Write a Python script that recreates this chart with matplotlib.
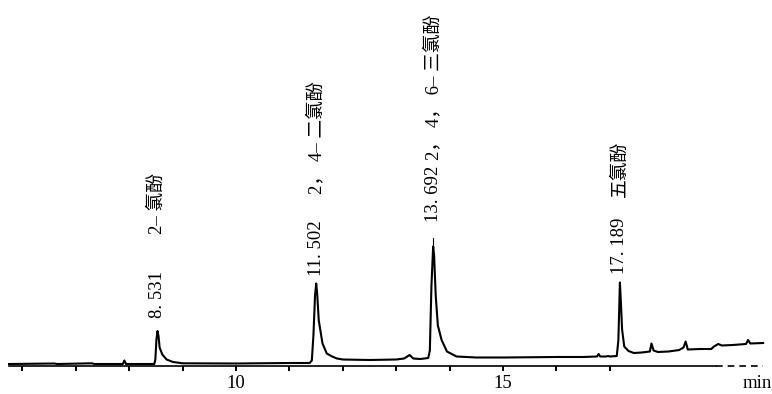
import matplotlib.pyplot as plt

# chromatogram trace: retention time (min), signal (arb.)
times = [5.75, 6.6, 6.65, 7.3, 7.35, 7.88, 7.91, 7.94, 8.47, 8.49, 8.51, 8.531,
         8.55, 8.57, 8.62, 8.70, 8.82, 9.0, 10.0, 11.0, 11.38, 11.42, 11.45, 11.48,
         11.502, 11.52, 11.55, 11.62, 11.70, 11.80, 11.89, 12.0, 12.5, 13.0, 13.15,
         13.25, 13.32, 13.45, 13.6, 13.63, 13.66, 13.692, 13.71, 13.74, 13.78, 13.85,
         13.95, 14.13, 14.5, 15.0, 16.0, 16.5, 16.76, 16.79, 16.82, 16.93, 16.97, 17.0,
         17.13, 17.16, 17.189, 17.21, 17.23, 17.27, 17.35, 17.45, 17.6, 17.75, 17.78,
         17.82, 17.9, 18.1, 18.3, 18.38, 18.42, 18.46, 18.7, 18.9, 18.95, 19.03, 19.1,
         19.3, 19.55, 19.59, 19.63, 19.87]
signal = [1.5, 2.0, 1.5, 2.2, 1.5, 1.5, 5.0, 1.5, 1.5, 6.0, 26.0, 34.5,
          29.0, 18.0, 11.0, 6.0, 3.5, 2.2, 2.0, 2.5, 2.5, 5.0, 30.0, 70.0,
          82.0, 72.0, 45.0, 22.0, 12.0, 9.0, 7.0, 6.0, 5.5, 6.0, 7.0,
          10.5, 7.0, 6.5, 7.5, 15.0, 80.0, 119.0, 110.0, 70.0, 40.0, 25.5,
          14.0, 9.0, 8.0, 8.0, 8.5, 8.5, 9.0, 11.5, 9.0, 9.0, 9.5, 9.0,
          9.5, 25.0, 83.0, 60.0, 36.0, 19.0, 14.5, 12.5, 13.0, 14.0, 22.0,
          15.0, 13.5, 14.0, 15.5, 18.0, 24.0, 16.0, 16.5, 16.5, 19.0, 21.5, 20.0,
          20.5, 21.5, 25.5, 22.0, 22.5]

peak_times = [8.531, 11.502, 13.692, 17.189]
peak_labels = ['8. 531', '11. 502', '13. 692', '17. 189']
compounds = ['2– 氯酚', '2， 4– 二氯酚', '2， 4， 6– 三氯酚', '五氯酚']

# where the rotated labels start (bottom edge, signal units)
time_label_y = [47, 90, 144, 92]
name_label_y = [132, 172, 206, 169]

fam = ['Liberation Serif', 'Noto Sans CJK SC']

fig = plt.figure(figsize=(7.72, 3.94), dpi=100)
ax = fig.add_axes([0, 0, 1, 1])
ax.set_xlim(5.581, 20.037)
ax.set_ylim(-28.5, 365.5)

ax.plot(times, signal, color='black', lw=1.5, solid_joinstyle='round')
# small marker on top of the 13.692 peak
ax.plot([13.692, 13.692], [119, 128], color='black', lw=0.8)

for t, lab, name, y1, y2 in zip(peak_times, peak_labels, compounds, time_label_y, name_label_y):
    ax.text(t, y1, lab, rotation=90, ha='center', va='bottom', fontsize=13.5, family=fam)
    ax.text(t, y2, name, rotation=90, ha='center', va='bottom', fontsize=13.5, family=fam)

for s in ['top', 'right', 'left']:
    ax.spines[s].set_visible(False)
ax.spines['bottom'].set_position(('data', 0))
ax.spines['bottom'].set_bounds(5.75, 18.99)
ax.spines['bottom'].set_linewidth(1.2)
ax.plot([18.99, 19.87], [0, 0], color='black', lw=1.2, dashes=(4, 3))

ticks = list(range(6, 18))
ax.set_xticks(ticks)
ax.set_xticklabels([str(t) if t in (10, 15) else '' for t in ticks], fontsize=13.5, family=fam)
ax.tick_params(axis='x', direction='out', length=3.5, width=1.4, pad=3)
ax.set_yticks([])

ax.text(19.76, -17.5, 'min', ha='center', va='center', fontsize=13.5, family=fam)

fig.savefig('out.png', dpi=100)
